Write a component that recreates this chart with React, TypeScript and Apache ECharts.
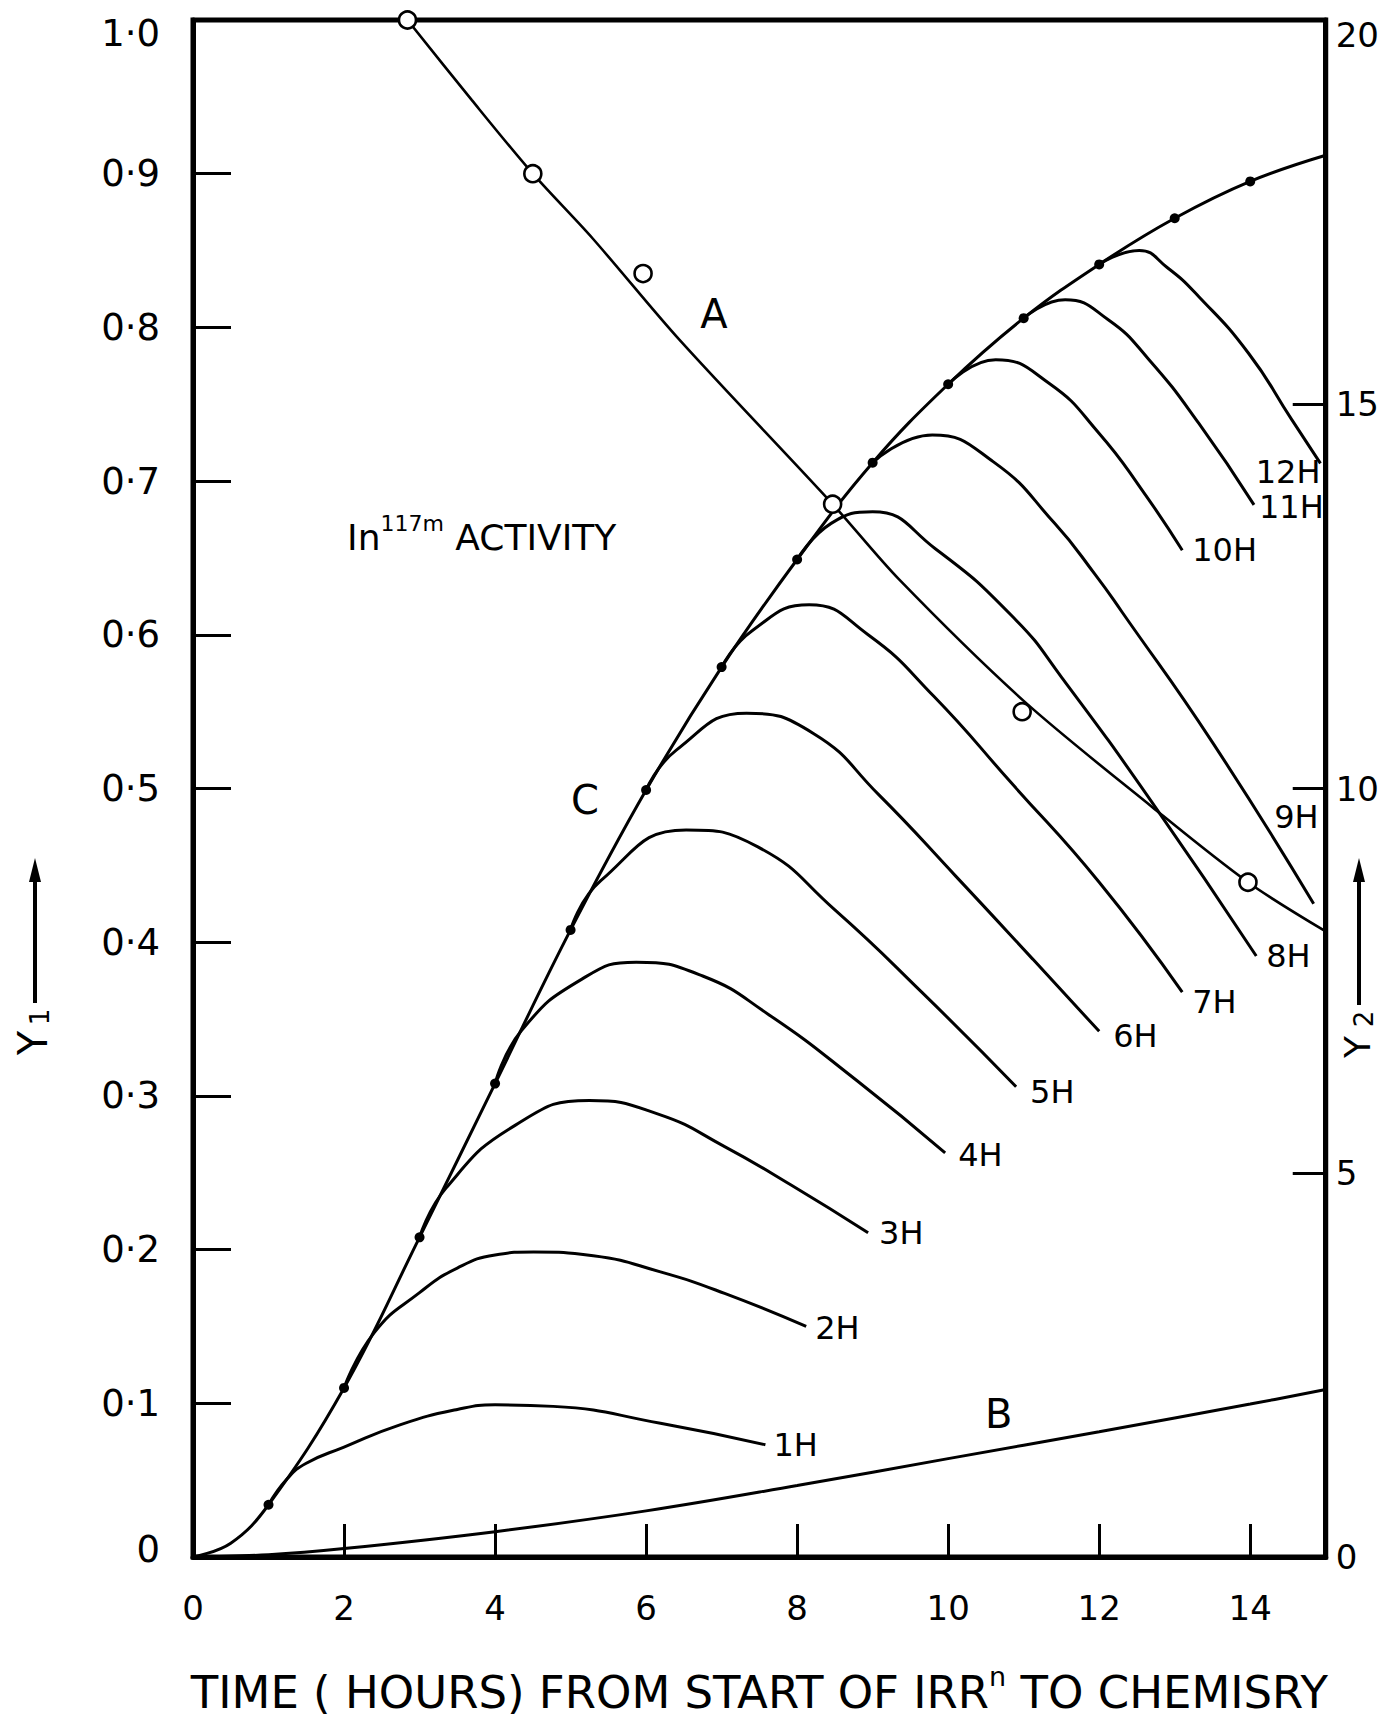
import { useEffect, useRef } from "react";
import * as echarts from "echarts";

type Pt = [number, number];

// ---- Axis ticks ----
const timeTicks = [0, 2, 4, 6, 8, 10, 12, 14];
const y1Ticks = [0, 0.1, 0.2, 0.3, 0.4, 0.5, 0.6, 0.7, 0.8, 0.9, 1.0];
const y2Ticks = [0, 5, 10, 15, 20];

// ---- Curve A: In-117m activity (Y1) ----
const curveA: Pt[] = [
  [2.84, 1.0], [3.69, 0.948], [4.5, 0.9], [5.29, 0.858], [6.44, 0.792],
  [8.47, 0.685], [9.35, 0.636], [11.0, 0.557], [12.7, 0.488], [13.97, 0.439], [15, 0.407],
];
const pointsA: Pt[] = [
  [2.84, 1.0], [4.5, 0.9], [5.96, 0.835], [8.47, 0.685], [10.98, 0.55], [13.97, 0.439],
];

// ---- Curve C: build-up during irradiation (Y2) ----
const pointsC: Pt[] = [
  [1, 0.68], [2, 2.2], [3, 4.16], [4, 6.16], [5, 8.16], [6, 9.98], [7, 11.58],
  [8, 12.98], [9, 14.24], [10, 15.26], [11, 16.12], [12, 16.82], [13, 17.42], [14, 17.9],
];
const curveC: Pt[] = [[0, 0], [0.5, 0.18], ...pointsC, [15, 18.24]];

// ---- Curve B (Y2) ----
const curveB: Pt[] = [
  [0, 0], [1, 0.03], [2, 0.11], [4, 0.33], [6, 0.6], [8, 0.93], [10, 1.28],
  [12, 1.63], [14, 1.99], [15, 2.18],
];

// ---- Irradiation-time curves 1H ... 12H (Y2) ----
const h1: Pt[] = [[1, 0.68], [1.25, 1.02], [1.5, 1.22], [2.0, 1.43], [2.74, 1.72], [3.5, 1.92], [4.0, 1.98], [4.77, 1.96], [6.19, 1.74], [7.58, 1.46]];
const h2: Pt[] = [[2, 2.2], [2.4, 2.92], [3.0, 3.44], [3.5, 3.76], [4.0, 3.93], [4.51, 3.97], [5.3, 3.92], [6.19, 3.71], [7.04, 3.43], [8.12, 3.0]];
const h3: Pt[] = [[3, 4.16], [3.35, 4.8], [4.27, 5.62], [5.25, 5.94], [6.17, 5.76], [7.04, 5.34], [7.92, 4.84], [8.94, 4.22]];
const h4: Pt[] = [[4, 6.16], [4.35, 6.85], [5.15, 7.52], [5.87, 7.74], [6.75, 7.56], [7.62, 7.06], [8.79, 6.2], [9.96, 5.26]];
const h5: Pt[] = [[5, 8.16], [5.4, 8.8], [6.53, 9.46], [7.48, 9.24], [8.5, 8.42], [9.66, 7.34], [10.9, 6.12]];
const h6: Pt[] = [[6, 9.98], [6.4, 10.5], [7.33, 10.98], [8.21, 10.72], [9.08, 9.92], [10.1, 8.86], [11.12, 7.78], [12.0, 6.84]];
const h7: Pt[] = [[7, 11.58], [7.4, 12.05], [8.16, 12.39], [8.94, 12.0], [9.81, 11.2], [10.83, 10.08], [12.0, 8.78], [13.1, 7.35]];
const h8: Pt[] = [[8, 12.98], [8.45, 13.45], [9.0, 13.6], [9.83, 13.12], [10.89, 12.2], [11.5, 11.45], [12.7, 9.82], [14.08, 7.82]];
const h9: Pt[] = [[9, 14.24], [9.79, 14.6], [10.6, 14.25], [11.41, 13.45], [11.95, 12.78], [12.3, 12.3], [13.5, 10.6], [14.84, 8.5]];
const h10: Pt[] = [[10, 15.26], [10.63, 15.58], [11.34, 15.27], [12.0, 14.62], [12.57, 13.88], [13.1, 13.1]];
const h11: Pt[] = [[11, 16.12], [11.55, 16.36], [12.12, 16.1], [12.66, 15.58], [13.32, 14.75], [14.05, 13.69]];
const h12: Pt[] = [[12, 16.82], [12.53, 17.0], [12.9, 16.78], [13.32, 16.4], [13.98, 15.66], [14.55, 14.8], [14.93, 14.23]];

const hCurves = [h1, h2, h3, h4, h5, h6, h7, h8, h9, h10, h11, h12];
const hNames = ["1H", "2H", "3H", "4H", "5H", "6H", "7H", "8H", "9H", "10H", "11H", "12H"];

// Placement of each curve's tag relative to its last point (pixels)
const hTagPlacement: { dx: number; dy: number; align: "left" | "right" }[] = [
  { dx: 8, dy: 0, align: "left" },
  { dx: 9, dy: 2, align: "left" },
  { dx: 11, dy: 0, align: "left" },
  { dx: 13, dy: 2, align: "left" },
  { dx: 14, dy: 5, align: "left" },
  { dx: 14, dy: 5, align: "left" },
  { dx: 10, dy: 10, align: "left" },
  { dx: 10, dy: 0, align: "left" },
  { dx: 5, dy: -87, align: "right" },
  { dx: 10, dy: 0, align: "left" },
  { dx: 5, dy: 2, align: "left" },
  { dx: 0, dy: 9, align: "right" },
];

const FONT = '"DejaVu Sans", sans-serif';
const INK = "#000";

function y1Label(v: number): string {
  const t = y1Ticks.find((k) => Math.abs(k - v) < 1e-6);
  if (t === undefined) return "";
  if (t === 0) return "{b|0}";
  const s = t.toFixed(1).replace(".", "·");
  return t === 1 ? "{t|" + s + "}" : s;
}

function y2Label(v: number): string {
  const t = y2Ticks.find((k) => Math.abs(k - v) < 1e-6);
  if (t === undefined) return "";
  return t === 20 ? "{t|20}" : String(t);
}

function xLabel(v: number): string {
  return timeTicks.includes(v) ? String(v) : "";
}

function buildOption(): echarts.EChartsOption {
  const curveLine = (data: Pt[], yAxisIndex: number, width = 3, smooth = 0.5) => ({
    type: "line" as const,
    data,
    yAxisIndex,
    showSymbol: false,
    smooth,
    silent: true,
    lineStyle: { color: INK, width },
    z: 3,
  });

  const series: any[] = [];

  series.push(curveLine(curveA, 0, 2.6, 0.3));
  series.push({
    type: "scatter",
    data: pointsA,
    yAxisIndex: 0,
    symbol: "circle",
    symbolSize: 17,
    silent: true,
    itemStyle: { color: "#fff", borderColor: INK, borderWidth: 2.6, opacity: 1 },
    z: 6,
  });

  series.push(curveLine(curveC, 1, 3, 0.4));
  series.push({
    type: "scatter",
    data: pointsC,
    yAxisIndex: 1,
    symbol: "circle",
    symbolSize: 10,
    silent: true,
    itemStyle: { color: INK, opacity: 1 },
    z: 6,
  });

  series.push(curveLine(curveB, 1, 3, 0.4));

  hCurves.forEach((c) => series.push(curveLine(c, 1, 3, 0.5)));

  // Tags at the end of each irradiation-time curve
  series.push({
    type: "scatter",
    yAxisIndex: 1,
    symbol: "circle",
    symbolSize: 1,
    silent: true,
    itemStyle: { color: "rgba(0,0,0,0)", opacity: 1 },
    z: 7,
    data: hCurves.map((c, i) => ({
      name: hNames[i],
      value: c[c.length - 1],
      label: {
        show: true,
        position: "inside",
        formatter: hNames[i],
        align: hTagPlacement[i].align,
        verticalAlign: "middle",
        offset: [hTagPlacement[i].dx, hTagPlacement[i].dy],
        color: INK,
        opacity: 1,
        fontFamily: FONT,
        fontSize: 32,
      },
    })),
  });

  // Curve letters and the activity caption
  const notes: { text: string; at: Pt; align: "left" | "center"; size: number }[] = [
    { text: "A", at: [6.9, 0.809], align: "center", size: 40 },
    { text: "C", at: [5.19, 0.4925], align: "center", size: 40 },
    { text: "B", at: [10.67, 0.093], align: "center", size: 40 },
    { text: "{a|In}{s|117m}{a| ACTIVITY}", at: [2.04, 0.663], align: "left", size: 36 },
  ];
  series.push({
    type: "scatter",
    yAxisIndex: 0,
    symbol: "circle",
    symbolSize: 1,
    silent: true,
    itemStyle: { color: "rgba(0,0,0,0)", opacity: 1 },
    z: 7,
    data: notes.map((n) => ({
      value: n.at,
      label: {
        show: true,
        position: "inside",
        formatter: n.text,
        align: n.align,
        verticalAlign: "middle",
        color: INK,
        opacity: 1,
        fontFamily: FONT,
        fontSize: n.size,
        rich: {
          a: { fontFamily: FONT, fontSize: 36, color: INK, lineHeight: 50 },
          s: { fontFamily: FONT, fontSize: 22, color: INK, lineHeight: 22, verticalAlign: "top" },
        },
      },
    })),
  });

  const yArrow = (x: number, yText: number, ySub: number, sub: string, size: number) => [
    {
      type: "text",
      x,
      y: yText,
      rotation: Math.PI / 2,
      style: { text: "Y", font: `${size}px ${FONT}`, fill: INK, align: "center", verticalAlign: "middle" },
    },
    {
      type: "text",
      x: x + 7,
      y: ySub,
      rotation: Math.PI / 2,
      style: { text: sub, font: `26px ${FONT}`, fill: INK, align: "center", verticalAlign: "middle" },
    },
    {
      type: "line",
      shape: { x1: x + 2, y1: ySub - 14, x2: x + 2, y2: 876 },
      style: { stroke: INK, lineWidth: 4 },
    },
    {
      type: "polygon",
      shape: { points: [[x + 2, 858], [x - 4, 882], [x + 8, 882]] },
      style: { fill: INK },
    },
  ];

  return {
    animation: false,
    backgroundColor: "#fff",
    grid: {
      left: 193,
      right: 52,
      top: 20,
      bottom: 172,
      show: true,
      borderColor: INK,
      borderWidth: 5,
      backgroundColor: "transparent",
    },
    xAxis: {
      type: "value",
      min: 0,
      max: 15,
      interval: 2,
      axisLine: { show: true, onZero: false, lineStyle: { color: INK, width: 5 } },
      axisTick: { show: true, inside: true, length: 33, lineStyle: { color: INK, width: 3 } },
      axisLabel: {
        show: true,
        margin: 34,
        color: INK,
        fontFamily: FONT,
        fontSize: 34,
        showMaxLabel: false,
        formatter: xLabel,
      },
      splitLine: { show: false },
      name: "{a|TIME ( HOURS) FROM START OF IRR}{s|n}{a| TO CHEMISRY}",
      nameLocation: "middle",
      nameGap: 106,
      nameTextStyle: {
        color: INK,
        fontFamily: FONT,
        fontSize: 45,
        rich: {
          a: { fontFamily: FONT, fontSize: 45, color: INK, lineHeight: 58 },
          s: { fontFamily: FONT, fontSize: 27, color: INK, lineHeight: 30, verticalAlign: "top" },
        },
      },
    },
    yAxis: [
      {
        type: "value",
        min: 0,
        max: 1,
        interval: 0.1,
        position: "left",
        axisLine: { show: true, onZero: false, lineStyle: { color: INK, width: 5 } },
        axisTick: { show: true, inside: true, length: 38, lineStyle: { color: INK, width: 3 } },
        axisLabel: {
          show: true,
          margin: 33,
          color: INK,
          fontFamily: FONT,
          fontSize: 37,
          formatter: y1Label,
          rich: {
            t: { fontFamily: FONT, fontSize: 37, color: INK, padding: [26, 0, 0, 0] },
            b: { fontFamily: FONT, fontSize: 37, color: INK, padding: [0, 0, 16, 0] },
          },
        },
        splitLine: { show: false },
      },
      {
        type: "value",
        min: 0,
        max: 20,
        interval: 5,
        position: "right",
        axisLine: { show: true, onZero: false, lineStyle: { color: INK, width: 5 } },
        axisTick: { show: true, inside: true, length: 33, lineStyle: { color: INK, width: 3 } },
        axisLabel: {
          show: true,
          margin: 10,
          color: INK,
          fontFamily: FONT,
          fontSize: 34,
          formatter: y2Label,
          rich: {
            t: { fontFamily: FONT, fontSize: 34, color: INK, padding: [30, 0, 0, 0] },
          },
        },
        splitLine: { show: false },
      },
    ],
    graphic: [...yArrow(33, 1043, 1017, "1", 40), ...yArrow(1357, 1047, 1019, "2", 36)] as any,
    series,
  };
}

export default function App() {
  const ref = useRef<HTMLDivElement>(null);

  useEffect(() => {
    if (!ref.current) return;
    const chart = echarts.init(ref.current, undefined, { renderer: "svg" });
    chart.setOption(buildOption());
    return () => chart.dispose();
  }, []);

  return (
    <div
      ref={ref}
      style={{ position: "absolute", left: 0, top: 0, width: 1382, height: 1729, background: "#fff" }}
    />
  );
}
